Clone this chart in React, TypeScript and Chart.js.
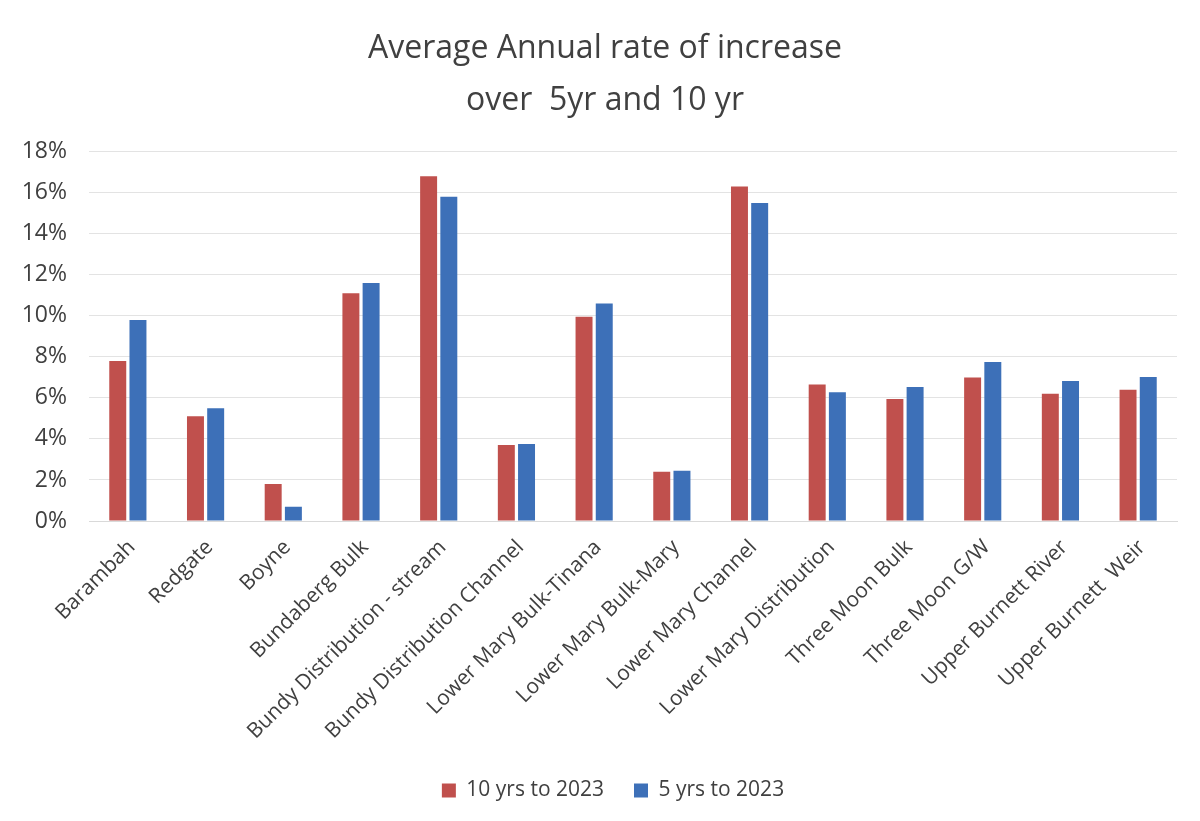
import React, { useEffect, useRef } from "react";
import { Chart, registerables } from "chart.js";

Chart.register(...registerables);

const categories = [
  "Barambah",
  "Redgate",
  "Boyne",
  "Bundaberg Bulk",
  "Bundy Distribution - stream",
  "Bundy Distribution Channel",
  "Lower Mary Bulk-Tinana",
  "Lower Mary Bulk-Mary",
  "Lower Mary Channel",
  "Lower Mary Distribution",
  "Three Moon Bulk",
  "Three Moon G/W",
  "Upper Burnett River",
  "Upper Burnett  Weir",
];

const tenYears = [7.8, 5.1, 1.8, 11.1, 16.8, 3.7, 9.95, 2.4, 16.3, 6.65, 5.95, 7.0, 6.2, 6.4];
const fiveYears = [9.8, 5.5, 0.7, 11.6, 15.8, 3.75, 10.6, 2.45, 15.5, 6.27, 6.53, 7.75, 6.82, 7.02];

const seriesLabels = ["10 yrs to 2023", "5 yrs to 2023"];
const titleLines = ["Average Annual rate of increase", "over  5yr and 10 yr"];

const FONT = "'Open Sans', 'Liberation Sans', sans-serif";

// nudges the title and legend horizontally to match the reference's centring
const shiftBoxes = {
  id: "shiftBoxes",
  afterLayout(chart: any) {
    const t = chart.titleBlock;
    if (t) {
      t.left += 12;
      t.right += 12;
    }
    const lg = chart.legend;
    if (lg) {
      lg.left += 20;
      lg.right += 20;
      (lg.legendHitBoxes || []).forEach((h: any) => (h.left += 20));
    }
  },
};

export default function App() {
  const ref = useRef<HTMLCanvasElement>(null);

  useEffect(() => {
    document.body.style.margin = "0";
    const ctx = ref.current!;
    const chart = new Chart(ctx, {
      type: "bar",
      data: {
        labels: categories,
        datasets: [
          {
            label: seriesLabels[0],
            data: tenYears,
            backgroundColor: "#C0504D",
            categoryPercentage: 0.52,
            barPercentage: 0.84,
          },
          {
            label: seriesLabels[1],
            data: fiveYears,
            backgroundColor: "#3D70B8",
            categoryPercentage: 0.52,
            barPercentage: 0.84,
          },
        ],
      },
      plugins: [shiftBoxes],
      options: {
        animation: false,
        responsive: true,
        maintainAspectRatio: false,
        layout: { padding: { left: 9, right: 23, top: 0, bottom: 10 } },
        plugins: {
          title: {
            display: true,
            text: titleLines,
            color: "#404040",
            font: { family: FONT, size: 32, weight: "normal", lineHeight: 1.62 },
            padding: { top: 23, bottom: 25 },
          },
          legend: {
            position: "bottom",
            labels: {
              color: "#404040",
              font: { family: FONT, size: 21 },
              boxWidth: 14,
              boxHeight: 14,
              padding: 30,
            },
          },
          tooltip: { enabled: false },
        },
        scales: {
          x: {
            grid: { display: false, drawTicks: false },
            border: { display: true, color: "#d9d9d9" },
            ticks: {
              color: "#404040",
              font: { family: FONT, size: 21 },
              minRotation: 45,
              maxRotation: 45,
              autoSkip: false,
              padding: 14,
              labelOffset: 4,
            },
            afterFit: (scale: any) => {
              scale.height = 229;
            },
          },
          y: {
            min: 0,
            max: 18,
            grid: { color: "#e3e3e3", drawTicks: false },
            border: { display: false },
            ticks: {
              stepSize: 2,
              color: "#404040",
              font: { family: FONT, size: 23 },
              padding: 22,
              callback: (v: any) => v + "%",
            },
            afterFit: (scale: any) => {
              scale.width = 80;
            },
          },
        },
      },
    });
    return () => chart.destroy();
  }, []);

  return (
    <div style={{ position: "absolute", left: 0, top: 0, width: 1200, height: 821, background: "#fff" }}>
      <canvas ref={ref} />
    </div>
  );
}
